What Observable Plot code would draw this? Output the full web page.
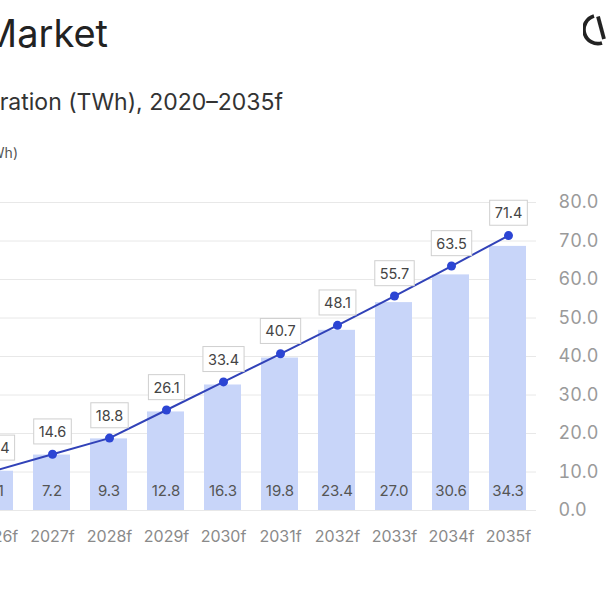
<!DOCTYPE html>
<html><head><meta charset="utf-8">
<script src="https://cdn.jsdelivr.net/npm/d3@7"></script>
<script src="https://cdn.jsdelivr.net/npm/@observablehq/plot@0.6"></script>
<style>
html,body{margin:0;padding:0;background:#fff;overflow:hidden;width:608px;height:608px;}
body{position:relative;font-family:Inter,"Open Sans",sans-serif;}
.t{position:absolute;white-space:nowrap;line-height:1;}
#title{right:500px;top:14px;font-size:38px;color:#222;font-weight:400;}
#subtitle{right:325px;top:91px;font-size:23px;color:#333;}
#unit{right:590px;top:146px;font-size:14px;color:#555;}
.layer{position:absolute;left:-34px;top:180px;}
#logo{position:absolute;left:583px;top:12px;}
</style></head>
<body>
<div class="t" id="title">Solar Power Market</div>
<div class="t" id="subtitle">Solar Power Generation (TWh), 2020–2035f</div>
<div class="t" id="unit">(TWh)</div>
<svg id="logo" width="34" height="34" viewBox="0 0 34 34">
  <path d="M11 4 A14 14 0 1 0 19 31" fill="none" stroke="#222" stroke-width="3.8" stroke-linecap="butt"/>
  <path d="M15 4.5 L21 27" fill="none" stroke="#222" stroke-width="3.8"/>
</svg>
<div class="layer" id="barsLayer"></div>
<div class="layer" id="lineLayer"></div>
<script>
const years = ["2026f","2027f","2028f","2029f","2030f","2031f","2032f","2033f","2034f","2035f"];
const barValues = [5.1,7.2,9.3,12.8,16.3,19.8,23.4,27.0,30.6,34.3];
const lineValues = [10.4,14.6,18.8,26.1,33.4,40.7,48.1,55.7,63.5,71.4];
const rightTicks = [0,10,20,30,40,50,60,70,80];
const leftTicks = [0,5,10,15,20,25,30,35,40];

const data = years.map((year,i)=>({year, bar:barValues[i], line:lineValues[i]}));

const dims = {width:642, height:380, marginLeft:0, marginRight:72, marginTop:22, marginBottom:50};
const xOpts = {domain:years, paddingInner:0.35, paddingOuter:0.175};
const font = "Inter, 'Open Sans', sans-serif";

const bars = Plot.plot({
  ...dims,
  style:{background:"transparent", fontFamily:font, overflow:"visible"},
  x:{...xOpts, axis:null},
  y:{domain:[0,40], axis:null},
  marks:[
    Plot.gridY(leftTicks, {stroke:"#e8e8e8", strokeOpacity:1, strokeWidth:1}),
    Plot.barY(data, {x:"year", y:"bar", fill:"#c8d5f9"}),
    Plot.text(data, {x:"year", text:d=>d.bar.toFixed(1), frameAnchor:"bottom", dy:-15, fill:"#555", fontSize:15})
  ]
});
document.getElementById("barsLayer").appendChild(bars);

const line = Plot.plot({
  ...dims,
  style:{background:"transparent", fontFamily:font, overflow:"visible"},
  x:{...xOpts},
  y:{domain:[0,80]},
  marks:[
    Plot.axisX({tickSize:0, tickPadding:20, fontSize:16, fill:"#8a8a8a", label:null}),
    Plot.axisY(rightTicks, {anchor:"right", tickSize:0, tickPadding:22, fontSize:18, fill:"#9a9a9a", tickFormat:d=>d.toFixed(1), label:null}),
    Plot.line(data, {x:"year", y:"line", stroke:"#3142b8", strokeWidth:2}),
    Plot.dot(data, {x:"year", y:"line", r:4.5, fill:"#2c45d4", stroke:"none"}),
    Plot.text(data, {x:"year", y:"line", text:d=>d.line.toFixed(1), dy:-22, fill:"#444", fontSize:14.5})
  ]
});
document.getElementById("lineLayer").appendChild(line);

// draw boxes behind value labels
line.querySelectorAll('g[aria-label="text"] text').forEach(t=>{
  const b = t.getBBox();
  const r = document.createElementNS("http://www.w3.org/2000/svg","rect");
  const px = 5, py = 4;
  r.setAttribute("x", b.x - px);
  r.setAttribute("y", b.y - py);
  r.setAttribute("width", b.width + 2*px);
  r.setAttribute("height", b.height + 2*py);
  r.setAttribute("fill", "#fff");
  r.setAttribute("stroke", "#cfcfcf");
  r.setAttribute("stroke-width", "1");
  if (t.getAttribute("transform")) r.setAttribute("transform", t.getAttribute("transform"));
  t.parentNode.insertBefore(r, t);
});
</script>
</body></html>
